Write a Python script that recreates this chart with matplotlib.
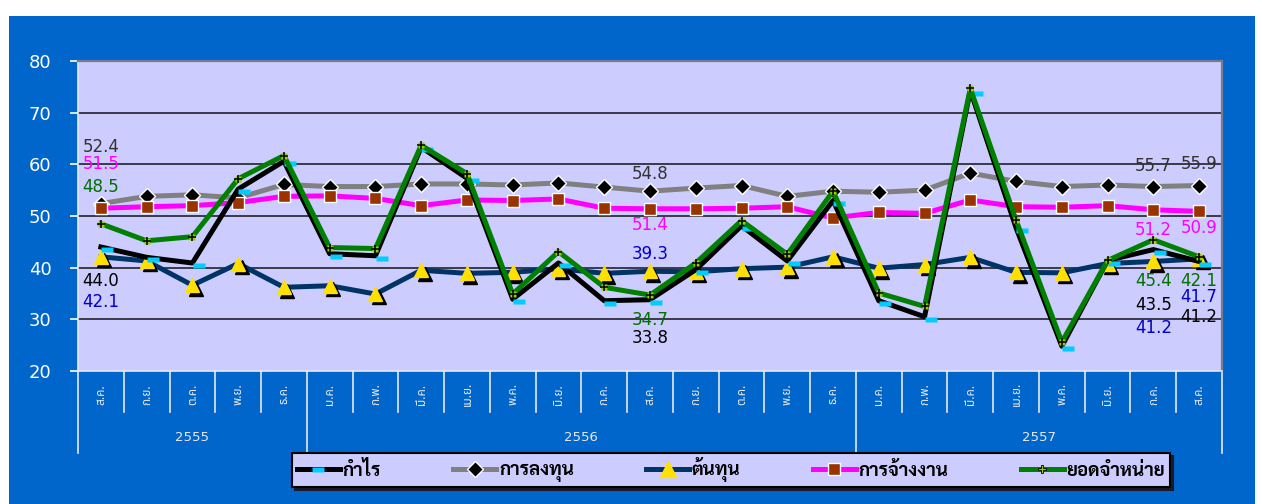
"""
Thai business sentiment index chart, Aug 2555 - Aug 2557.
"""
import numpy as np
import matplotlib
matplotlib.use('Agg')
import matplotlib.pyplot as plt
from matplotlib.lines import Line2D
from matplotlib.patches import Rectangle
from matplotlib.transforms import offset_copy, blended_transform_factory

THAI = ['Noto Sans Thai', 'DejaVu Sans']
THAI_BOLD = ['Sarabun', 'DejaVu Sans']

months = ['ส.ค.', 'ก.ย.', 'ต.ค.', 'พ.ย.', 'ธ.ค.',
          'ม.ค.', 'ก.พ.', 'มี.ค.', 'เม.ย.', 'พ.ค.', 'มิ.ย.', 'ก.ค.', 'ส.ค.', 'ก.ย.', 'ต.ค.', 'พ.ย.', 'ธ.ค.',
          'ม.ค.', 'ก.พ.', 'มี.ค.', 'เม.ย.', 'พ.ค.', 'มิ.ย.', 'ก.ค.', 'ส.ค.']
years = ['2555', '2556', '2557']
year_counts = [5, 12, 8]

profit = [44.0, 42.0, 40.9, 55.2, 60.6, 42.7, 42.3, 63.3, 57.3, 33.9, 40.9, 33.6, 33.8,
          39.6, 48.1, 41.3, 53.0, 33.6, 30.5, 74.3, 47.7, 24.8, 41.4, 43.5, 41.2]
invest = [52.4, 53.8, 54.1, 53.5, 56.1, 55.7, 55.7, 56.2, 56.2, 56.0, 56.4, 55.6, 54.8,
          55.4, 55.9, 53.8, 54.8, 54.6, 55.0, 58.3, 56.7, 55.7, 56.0, 55.7, 55.9]
cost = [42.1, 41.3, 36.6, 40.8, 36.2, 36.5, 34.9, 39.5, 38.9, 39.1, 39.8, 38.9, 39.3,
        39.2, 39.8, 40.1, 42.1, 39.9, 40.6, 42.0, 39.1, 39.0, 40.8, 41.2, 41.7]
employ = [51.5, 51.8, 52.0, 52.6, 53.8, 53.9, 53.4, 52.0, 53.1, 53.0, 53.3, 51.5, 51.4,
          51.4, 51.5, 51.8, 49.6, 50.7, 50.5, 53.1, 51.8, 51.7, 52.0, 51.2, 50.9]
sales = [48.5, 45.2, 46.0, 57.2, 61.7, 43.9, 43.7, 63.7, 58.2, 34.9, 43.1, 36.2, 34.7,
         40.9, 49.1, 42.6, 54.8, 35.1, 32.5, 74.7, 49.2, 25.6, 41.4, 45.4, 42.1]

names = ['กำไร', 'การลงทุน', 'ต้นทุน', 'การจ้างงาน', 'ยอดจำหน่าย']

# where the value labels sit: (series, month index, label y)
label_spots = [
    ('invest', 0, 63.4), ('employ', 0, 60.0), ('sales', 0, 55.6), ('profit', 0, 37.5), ('cost', 0, 33.3),
    ('invest', 12, 58.1), ('employ', 12, 48.3), ('cost', 12, 42.6), ('sales', 12, 29.9), ('profit', 12, 26.3),
    ('invest', 23, 59.6), ('employ', 23, 47.2), ('sales', 23, 37.4), ('profit', 23, 32.7), ('cost', 23, 28.4),
    ('invest', 24, 60.0), ('employ', 24, 47.6), ('sales', 24, 37.5), ('cost', 24, 34.3), ('profit', 24, 30.5),
]
series = {'profit': profit, 'invest': invest, 'cost': cost, 'employ': employ, 'sales': sales}
label_colors = {'profit': 'black', 'invest': '#333333', 'cost': '#0000CC',
                'employ': '#FF00FF', 'sales': '#007000'}

BLUE = '#0066CC'
LAV = '#CCCCFF'

fig = plt.figure(figsize=(12.62, 5.04), dpi=100)
fig.patch.set_facecolor('white')
fig.patches.append(Rectangle((9 / 1262, 0), 1246 / 1262, 1 - 16 / 504,
                             transform=fig.transFigure, facecolor=BLUE, edgecolor='none', zorder=-10))

ax = fig.add_axes([78 / 1262, 1 - 371 / 504, 1144 / 1262, 310 / 504])
ax.set_facecolor(LAV)
x = np.arange(len(months))

ax.set_xlim(-0.5, len(months) - 0.5)
ax.set_ylim(20, 80)
ax.set_yticks(range(20, 81, 10))
for yv in range(30, 80, 10):
    ax.axhline(yv, color='#3a3a4a', lw=1.4, zorder=1)
ax.tick_params(axis='y', colors='white', labelsize=13, length=6, width=1.2, direction='out', pad=13)
ax.set_xticks([])
for s in ['top', 'right']:
    ax.spines[s].set_color('#7a7a8a')
    ax.spines[s].set_linewidth(1.6)
for s in ['left', 'bottom']:
    ax.spines[s].set_color('#e8e8f8')
    ax.spines[s].set_linewidth(1.2)

LW = 3.6
# gray: investment
ax.plot(x, invest, color='#808080', lw=LW, zorder=3, solid_joinstyle='round')
ax.plot(x, invest, ls='none', marker='D', ms=8, mfc='black', mec='white', mew=1, zorder=3.5)
# magenta: employment
ax.plot(x, employ, color='#FF00FF', lw=LW, zorder=4, solid_joinstyle='round')
ax.plot(x, employ, ls='none', marker='s', ms=9, mfc='#993300', mec='white', mew=1, zorder=4.5)
# navy: cost
ax.plot(x, cost, color='#003366', lw=LW, zorder=5, solid_joinstyle='round')
shadow_tr = offset_copy(ax.transData, fig=fig, x=2.5, y=-2.5, units='points')
ax.plot(x, cost, ls='none', marker='^', ms=10, mfc='black', mec='black', transform=shadow_tr, zorder=5.4)
ax.plot(x, cost, ls='none', marker='^', ms=10, mfc='#FFE000', mec='#FFE000', zorder=5.5)
# black: profit
ax.plot(x, profit, color='black', lw=LW, zorder=6, solid_joinstyle='round')
bar_marker = [(-1, -0.45), (1, -0.45), (1, 0.45), (-1, 0.45), (-1, -0.45)]
cyan_tr = offset_copy(ax.transData, fig=fig, x=4.5, y=-1.5, units='points')
ax.plot(x, profit, ls='none', marker=bar_marker, ms=8, mfc='#00CCFF', mec='none', transform=cyan_tr, zorder=6.5)
# green: sales
ax.plot(x, sales, color='#008000', lw=LW, zorder=7, solid_joinstyle='round')
ax.plot(x, sales, ls='none', marker='s', ms=5, mfc='#99CC00', mec='none', zorder=7.5)
ax.plot(x, sales, ls='none', marker='+', ms=6, mec='black', mew=1.1, zorder=7.6)

for key, i, ly in label_spots:
    ax.text(i, ly, f'{series[key][i]:.1f}', color=label_colors[key], fontsize=12,
            ha='center', va='center', zorder=10)

# two-level category axis
tr = blended_transform_factory(ax.transData, ax.transAxes)
bounds = [-0.5 + k for k in range(len(months) + 1)]
year_edges = np.cumsum([0] + year_counts) - 0.5
for b in bounds:
    bottom = -0.265 if b in year_edges else -0.132
    ax.plot([b, b], [0, bottom], color='#e8e8f8', lw=1.2, transform=tr, clip_on=False)
for i, m in enumerate(months):
    ax.text(i, -0.075, m, transform=tr, rotation=90, ha='center', va='center',
            color='#e8e8e8', fontsize=8.5, family=THAI)
for k, yr in enumerate(years):
    mid = (year_edges[k] + year_edges[k + 1]) / 2
    ax.text(mid, -0.215, yr, transform=tr, ha='center', va='center', color='#e8e8e8', fontsize=9.5)

# legend
handles = [
    Line2D([], [], color='black', lw=LW, marker=bar_marker, ms=8, mfc='#00CCFF', mec='none'),
    Line2D([], [], color='#808080', lw=LW, marker='D', ms=8, mfc='black', mec='white'),
    Line2D([], [], color='#003366', lw=LW, marker='^', ms=11, mfc='#FFE000', mec='#FFE000'),
    Line2D([], [], color='#FF00FF', lw=LW, marker='s', ms=9, mfc='#993300', mec='white'),
    Line2D([], [], color='#008000', lw=LW, marker='P', ms=6, mfc='#99CC00', mec='black', mew=0.6),
]
leg = fig.legend(handles, names, loc='center', ncol=5, mode='expand',
                 bbox_to_anchor=(292 / 1262, 1 - 490 / 504, 878 / 1262, 40 / 504),
                 prop={'family': THAI_BOLD, 'weight': 'bold', 'size': 13.5},
                 facecolor=LAV, edgecolor='black', framealpha=1, fancybox=False,
                 shadow={'color': '#1a1a2a', 'alpha': 1}, handlelength=2.3, handletextpad=0.15,
                 borderpad=0.25, borderaxespad=0)
leg.get_frame().set_linewidth(1.5)

fig.savefig('out.png', dpi=100, facecolor=fig.get_facecolor())
